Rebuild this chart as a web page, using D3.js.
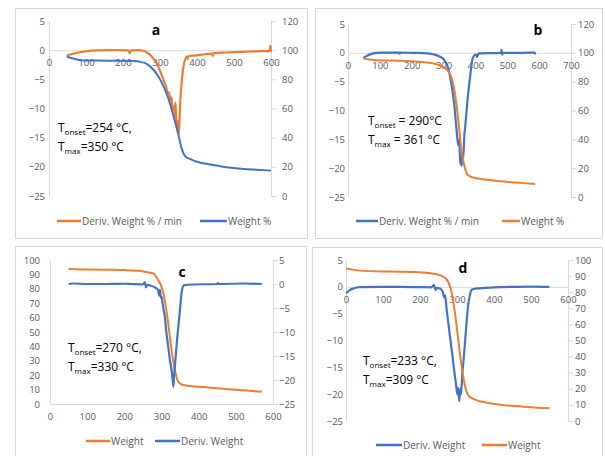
<!DOCTYPE html>
<html>
<head>
<meta charset="utf-8">
<script src="https://cdn.jsdelivr.net/npm/d3@7"></script>
<style>
  body { margin: 0; background: #fff; }
  text { font-family: "Open Sans", "Liberation Sans", sans-serif; }
</style>
</head>
<body>
<svg id="chart" width="605" height="456"></svg>
<script>
// ---- data (temperature in °C, value) ----
var aDeriv = [[48,-0.9],[60,-0.7],[80,-0.4],[100,-0.2],[130,-0.05],[180,0],[214,-0.05],[218,-0.5],[222,-0.05],[240,0],[255,-0.1],[265,-0.4],[275,-0.9],[283,-1.5],[290,-2.1],[296,-2.9],[303,-4.0],[310,-5.2],[317,-6.4],[321,-7.6],[324,-7.2],[328,-8.6],[331,-8.1],[333,-9.4],[336,-10.2],[338,-9.6],[340,-11.2],[342,-9.0],[344,-11.8],[346,-12.8],[348,-12.1],[351,-14.4],[353,-11.5],[355,-8.5],[358,-6.0],[361,-4.0],[364,-2.6],[368,-1.6],[372,-1.1],[374,-1.5],[377,-1.0],[400,-0.9],[420,-0.7],[440,-0.6],[442,-1.0],[445,-0.5],[480,-0.4],[520,-0.3],[560,-0.2],[596,-0.15],[598,0.8],[600,-0.3]];
var aWeight = [[48,95.5],[70,94],[100,92.9],[160,92.8],[228,92.6],[250,91.8],[265,90.5],[283,86.4],[296,81.8],[310,75],[324,65.8],[337,54.4],[351,40.7],[356,35],[360,31.5],[369,27],[385,25],[400,23.5],[440,21.4],[470,20.1],[520,18.7],[560,18],[600,17.4]];

var bDeriv = [[48,-0.9],[60,-0.5],[79,-0.1],[100,0.05],[160,0.05],[162,-0.15],[164,0.05],[200,0],[250,-0.1],[277,-0.4],[298,-1.0],[313,-2.4],[324,-5.2],[334,-9.2],[341,-13.5],[346,-16],[349,-15],[351,-17.5],[353,-19.3],[355,-17.8],[357,-19.6],[359,-17.5],[362,-18.2],[365,-14.5],[368,-12.8],[375,-8.3],[383,-4.3],[391,-1.0],[401,-0.3],[405,-0.7],[410,-0.1],[480,0],[482,0.5],[484,-0.3],[486,0],[550,0],[586,0.05],[588,-0.3]];
var bWeight = [[48,96.2],[79,95],[183,94.3],[266,92.7],[298,90.4],[319,85.8],[334,74.2],[345,55.7],[355,34.9],[366,21],[376,15.3],[391,13.7],[443,11.8],[495,10.6],[540,9.8],[588,9]];

var cWeight = [[50,93.7],[100,93.4],[150,93.2],[200,93],[240,92.5],[260,91.6],[278,90.7],[291,86],[300,81.5],[309,72],[318,56],[327,37.5],[336,23.6],[345,15.5],[358,13.2],[420,11.6],[510,9.7],[570,8.5]];
var cDeriv = [[50,0],[60,0.1],[100,0],[150,0],[200,0.05],[220,0],[250,-0.1],[255,0.4],[258,-0.7],[261,-0.2],[270,-0.3],[280,-0.6],[288,-1.0],[291,-1.3],[294,-2.4],[296,-1.2],[298,-2.8],[300,-2.6],[303,-4.0],[306,-5.5],[309,-6.8],[313,-10],[318,-13],[322,-15.5],[327,-17.9],[330,-20],[332,-21.4],[334,-19],[336,-17.2],[341,-12.4],[348,-6.8],[354,-1.9],[360,-0.3],[380,-0.1],[450,0],[452,0.2],[454,0],[520,0.1],[570,0]];

var dDeriv = [[0,-1.2],[10,-0.6],[20,-0.3],[38,-0.05],[100,0],[150,0],[200,-0.05],[230,-0.1],[238,0.3],[242,-0.6],[246,-0.2],[254,-0.3],[262,-1.0],[266,-2.0],[268,-1.6],[272,-4.2],[277,-7],[282,-9.8],[287,-12.5],[291,-14.8],[295,-17],[298,-18.5],[301,-20],[303,-18.8],[306,-21.3],[309,-19],[311,-20],[314,-16.5],[318,-13.5],[322,-10],[326,-6.5],[330,-3.5],[335,-1.5],[340,-0.5],[353,-0.3],[400,-0.1],[450,0],[500,0.05],[550,0]];
var dWeight = [[0,94.8],[38,93.4],[119,92.8],[209,92.3],[245,91.1],[263,89.6],[276,86.5],[285,80.3],[294,67.9],[303,51.3],[312,34.8],[321,22.4],[330,16.1],[344,13.7],[389,11],[479,8.9],[550,7.9]];

var derivTicks = [-25, -20, -15, -10, -5, 0, 5];
var weight120Ticks = [0, 20, 40, 60, 80, 100, 120];
var weight100Ticks = [0, 10, 20, 30, 40, 50, 60, 70, 80, 90, 100];
var temp600Ticks = [0, 100, 200, 300, 400, 500, 600];
var temp700Ticks = [0, 100, 200, 300, 400, 500, 600, 700];

var ORANGE = "#ED7D31", BLUE = "#4472C4", GRID = "#d9d9d9", LABEL = "#595959";

var panels = [
  {
    letter: "a", letterPos: [156, 35],
    box: [15, 8, 292, 230], plot: [49, 271, 21, 196],
    xDomain: [0, 600], xTicks: temp600Ticks,
    left: {domain: [-25, 5], ticks: derivTicks, gap: 4},
    right: {domain: [0, 120], ticks: weight120Ticks, gap: 11},
    series: [
      {data: aDeriv, axis: "left", color: ORANGE, width: 2.2},
      {data: aWeight, axis: "right", color: BLUE, width: 2}
    ],
    legend: {y: 221, items: [[57, 81, "Deriv. Weight % / min", ORANGE], [200, 227, "Weight %", BLUE]]},
    note: {x: 58, y: 132, onset: "=254 \u00B0C,", max: "=350 \u00B0C"}
  },
  {
    letter: "b", letterPos: [538, 35],
    box: [315, 8, 287, 230], plot: [348, 571, 24, 197],
    xDomain: [0, 700], xTicks: temp700Ticks,
    left: {domain: [-25, 5], ticks: derivTicks, gap: 3},
    right: {domain: [0, 120], ticks: weight120Ticks, gap: 7},
    series: [
      {data: bDeriv, axis: "left", color: BLUE, width: 2.2},
      {data: bWeight, axis: "right", color: ORANGE, width: 2}
    ],
    legend: {y: 221, items: [[356, 378, "Deriv. Weight % / min", BLUE], [502, 520, "Weight %", ORANGE]]},
    note: {x: 368, y: 125, onset: " = 290\u00B0C", max: " = 361 \u00B0C"}
  },
  {
    letter: "c", letterPos: [182, 277],
    box: [15, 246, 291, 215], plot: [50, 273, 260, 404],
    xDomain: [0, 600], xTicks: temp600Ticks,
    left: {domain: [0, 100], ticks: weight100Ticks, gap: 10},
    right: {domain: [-25, 5], ticks: derivTicks, gap: 6},
    series: [
      {data: cWeight, axis: "left", color: ORANGE, width: 2},
      {data: cDeriv, axis: "right", color: BLUE, width: 2.2}
    ],
    legend: {y: 441, items: [[86, 110, "Weight", ORANGE], [155, 180, "Deriv. Weight", BLUE]]},
    note: {x: 68, y: 352, onset: "=270 \u00B0C,", max: "=330 \u00B0C"}
  },
  {
    letter: "d", letterPos: [463, 273],
    box: [312, 247, 290, 215], plot: [346, 568, 260, 421],
    xDomain: [0, 600], xTicks: temp600Ticks,
    left: {domain: [-25, 5], ticks: derivTicks, gap: 3},
    right: {domain: [0, 100], ticks: weight100Ticks, gap: 7},
    series: [
      {data: dDeriv, axis: "left", color: BLUE, width: 2.2},
      {data: dWeight, axis: "right", color: ORANGE, width: 2}
    ],
    legend: {y: 445, items: [[376, 402, "Deriv. Weight", BLUE], [482, 507, "Weight", ORANGE]]},
    note: {x: 363, y: 365, onset: "=233 \u00B0C,", max: "=309 \u00B0C"}
  }
];

var svg = d3.select("#chart");

function drawPanel(p) {
  var g = svg.append("g");
  var x = d3.scaleLinear().domain(p.xDomain).range([p.plot[0], p.plot[1]]);
  var yL = d3.scaleLinear().domain(p.left.domain).range([p.plot[3], p.plot[2]]);
  var yR = d3.scaleLinear().domain(p.right.domain).range([p.plot[3], p.plot[2]]);

  // panel frame
  g.append("rect")
    .attr("x", p.box[0] + 0.5).attr("y", p.box[1] + 0.5)
    .attr("width", p.box[2]).attr("height", p.box[3])
    .attr("fill", "#fff").attr("stroke", GRID);

  // left axis: line only, labels right-aligned
  var leftAxis = d3.axisLeft(yL).tickValues(p.left.ticks).tickSize(0).tickPadding(p.left.gap);
  var gl = g.append("g").attr("transform", "translate(" + p.plot[0] + ",0)").call(leftAxis);

  // right axis: outward ticks
  var rightAxis = d3.axisRight(yR).tickValues(p.right.ticks).tickSize(5).tickPadding(p.right.gap - 5);
  var gr = g.append("g").attr("transform", "translate(" + p.plot[1] + ",0)").call(rightAxis);

  // x axis crosses at left-axis value 0
  var xAxis = d3.axisBottom(x).tickValues(p.xTicks).tickSize(0).tickPadding(9);
  var gx = g.append("g").attr("transform", "translate(0," + yL(0) + ")").call(xAxis);

  [gl, gr, gx].forEach(function (a) {
    a.select(".domain").attr("stroke", GRID);
    a.selectAll(".tick line").attr("stroke", GRID);
    a.selectAll("text")
      .attr("fill", LABEL)
      .style("font-size", "9.5px")
      .style("font-family", "'Open Sans', sans-serif");
  });

  // series
  p.series.forEach(function (s) {
    var yScale = s.axis === "left" ? yL : yR;
    var line = d3.line()
      .x(function (d) { return x(d[0]); })
      .y(function (d) { return yScale(d[1]); })
      .curve(d3.curveMonotoneX);
    g.append("path")
      .datum(s.data)
      .attr("d", line)
      .attr("fill", "none")
      .attr("stroke", s.color)
      .attr("stroke-width", s.width)
      .attr("stroke-linejoin", "round");
  });

  // panel letter
  g.append("text")
    .attr("x", p.letterPos[0]).attr("y", p.letterPos[1])
    .attr("text-anchor", "middle")
    .style("font-size", "14px").style("font-weight", "bold")
    .attr("fill", "#000")
    .text(p.letter);

  // annotation
  var n1 = g.append("text").attr("x", p.note.x).attr("y", p.note.y)
    .style("font-size", "12px").attr("fill", "#000");
  n1.append("tspan").text("T");
  n1.append("tspan").attr("dy", 3).style("font-size", "8px").text("onset");
  n1.append("tspan").attr("dy", -3).text(p.note.onset);
  var n2 = g.append("text").attr("x", p.note.x).attr("y", p.note.y + 19)
    .style("font-size", "12px").attr("fill", "#000");
  n2.append("tspan").text("T");
  n2.append("tspan").attr("dy", 3).style("font-size", "8px").text("max");
  n2.append("tspan").attr("dy", -3).text(p.note.max);

  // legend
  p.legend.items.forEach(function (it) {
    g.append("line")
      .attr("x1", it[0]).attr("x2", it[1])
      .attr("y1", p.legend.y).attr("y2", p.legend.y)
      .attr("stroke", it[3]).attr("stroke-width", 2.5);
    g.append("text")
      .attr("x", it[1] + 1).attr("y", p.legend.y + 3.5)
      .style("font-size", "10px").attr("fill", LABEL)
      .text(it[2]);
  });
}

panels.forEach(drawPanel);
</script>
</body>
</html>
